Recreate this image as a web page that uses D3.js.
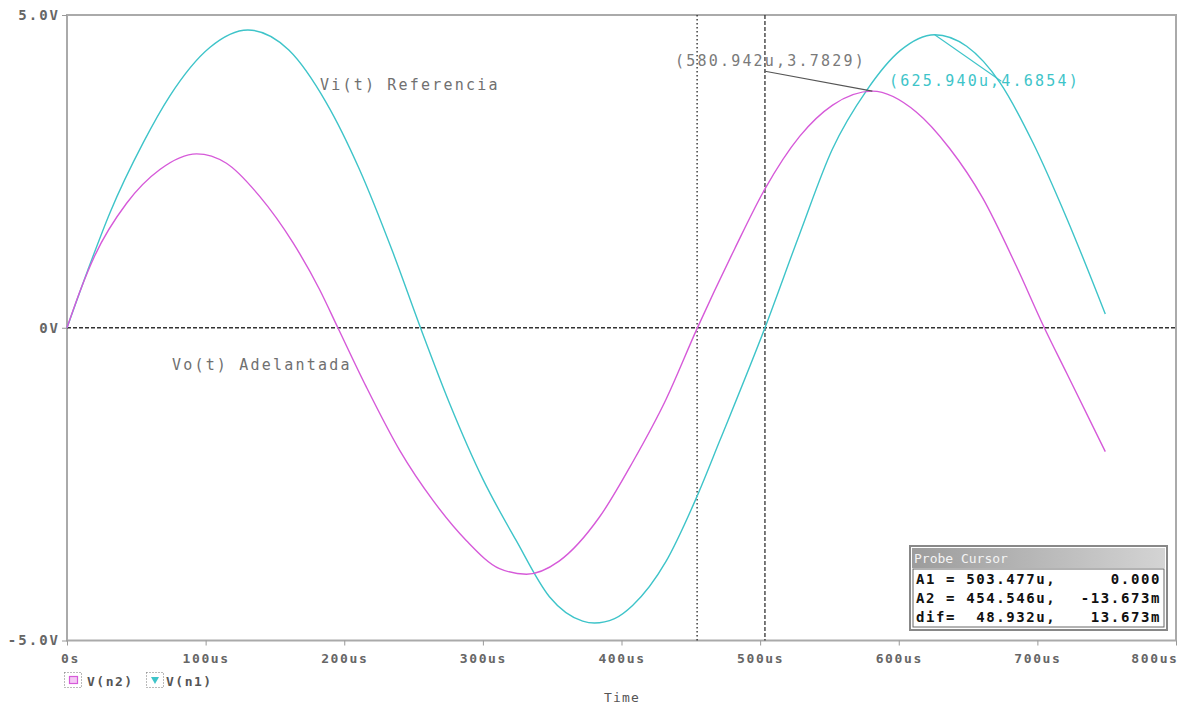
<!DOCTYPE html>
<html>
<head>
<meta charset="utf-8">
<script src="https://cdn.jsdelivr.net/npm/d3@7"></script>
<style>
  body { margin: 0; background: #fff; }
  svg { display: block; }
  text { font-family: "DejaVu Sans Mono", monospace; }
</style>
</head>
<body>
<svg id="chart" width="1179" height="707"></svg>
<script>
// values (time in us, voltage in V)
const timeTicks = [0, 100, 200, 300, 400, 500, 600, 700, 800];
const timeTickLabels = ["0s", "100us", "200us", "300us", "400us", "500us", "600us", "700us", "800us"];
const voltTicks = [-5, 0, 5];
const voltTickLabels = ["-5.0V", "0V", "5.0V"];

// V(n1) - Vi(t) Referencia
const vn1Time = [0, 15, 31, 55, 74, 103, 130.5, 160, 187, 211, 235, 255, 276, 300, 324, 348, 372, 380.5, 395, 408, 432, 454, 471, 503.5, 528.5, 552, 577, 601, 625.9, 649, 673, 697, 721, 749];
const vn1Volt = [0, 0.92, 1.84, 2.96, 3.70, 4.48, 4.76, 4.44, 3.60, 2.53, 1.21, 0, -1.21, -2.42, -3.40, -4.30, -4.69, -4.72, -4.65, -4.44, -3.74, -2.72, -1.80, 0, 1.50, 2.85, 3.80, 4.43, 4.685, 4.50, 3.92, 2.95, 1.76, 0.22];

// V(n2) - Vo(t) Adelantada
const vn2Time = [0, 10, 20, 43, 67, 93.5, 115, 139, 163, 182, 195.4, 216, 240, 264, 288, 312, 331.4, 355, 384, 408, 432, 454.5, 481.6, 503.5, 528.5, 552.3, 580.9, 612.6, 636.6, 660.4, 684.7, 705, 721, 749];
const vn2Volt = [0, 0.62, 1.15, 1.99, 2.53, 2.78, 2.63, 2.10, 1.36, 0.62, 0, -0.95, -1.96, -2.76, -3.40, -3.85, -3.94, -3.73, -3.03, -2.15, -1.15, -0.014, 1.26, 2.22, 3.06, 3.56, 3.783, 3.45, 2.87, 2.08, 0.99, 0, -0.72, -1.98];

// cursors
const cursorA1 = 503.477;
const cursorA2 = 454.546;

// text notes placed in data coords [t, v]
const noteText = ["Vi(t) Referencia", "Vo(t) Adelantada", "(580.942u,3.7829)", "(625.940u,4.6854)"];
const noteTime = [182.5, 75.7, 438.6, 593];
const noteVolt = [3.80, -0.675, 4.18, 3.86];
const noteColor = ["#707070", "#707070", "#7a7a7a", "#3ec4c9"];

// leader lines [t0, v0, t1, v1]
const leaderLines = [[503.6, 4.10, 580.942, 3.7829], [625.94, 4.6854, 674, 3.94]];
const leaderColor = ["#555", "#3ec4c9"];

const probeRows = [["A1 = 503.477u,", "0.000"], ["A2 = 454.546u,", "-13.673m"], ["dif=  48.932u,", "13.673m"]];

const cyan = "#3ec4c9";
const magenta = "#d65ad9";

let svg = d3.select("#chart");
let x = d3.scaleLinear().domain([0, 800]).range([67, 1176]);
let y = d3.scaleLinear().domain([-5, 5]).range([640.5, 15]);

// plot frame
svg.append("rect")
    .attr("x", x(0)).attr("y", y(5))
    .attr("width", x(800) - x(0)).attr("height", y(-5) - y(5))
    .attr("fill", "none").attr("stroke", "#aaa").attr("stroke-width", 2);

// x axis ticks + labels
let xAxis = svg.append("g")
    .attr("transform", `translate(0,${y(-5)})`)
    .call(d3.axisBottom(x).tickValues(timeTicks).tickSize(5).tickPadding(8)
        .tickFormat((d, i) => timeTickLabels[i]));
xAxis.select(".domain").remove();
xAxis.selectAll("line").attr("stroke", "#999");
xAxis.selectAll("text")
    .attr("font-family", "DejaVu Sans Mono")
    .attr("font-size", 13).attr("font-weight", "bold")
    .attr("letter-spacing", 1.6).attr("fill", "#666");
xAxis.selectAll(".tick").filter(d => d === 0).select("text").attr("dx", 3);
xAxis.selectAll(".tick").filter(d => d === 800).select("text").attr("text-anchor", "end").attr("dx", 2);

// y axis ticks + labels
let yAxis = svg.append("g")
    .attr("transform", `translate(${x(0)},0)`)
    .call(d3.axisLeft(y).tickValues(voltTicks).tickSize(5).tickPadding(2)
        .tickFormat((d, i) => voltTickLabels[i]));
yAxis.select(".domain").remove();
yAxis.selectAll("line").attr("stroke", "#999");
yAxis.selectAll("text")
    .attr("font-family", "DejaVu Sans Mono")
    .attr("font-size", 14).attr("font-weight", "bold")
    .attr("letter-spacing", 2).attr("fill", "#666");

// zero line
svg.append("line")
    .attr("x1", x(0)).attr("x2", x(800))
    .attr("y1", y(0)).attr("y2", y(0))
    .attr("stroke", "#333").attr("stroke-width", 1.3)
    .attr("stroke-dasharray", "4,2");

// cursors
svg.append("line")
    .attr("x1", x(cursorA2)).attr("x2", x(cursorA2))
    .attr("y1", y(5)).attr("y2", y(-5))
    .attr("stroke", "#333").attr("stroke-width", 1.4)
    .attr("stroke-dasharray", "1.5,2.5");
svg.append("line")
    .attr("x1", x(cursorA1)).attr("x2", x(cursorA1))
    .attr("y1", y(5)).attr("y2", y(-5))
    .attr("stroke", "#333").attr("stroke-width", 1.3)
    .attr("stroke-dasharray", "4,2");

// traces
let line = d3.line()
    .x(d => x(d[0]))
    .y(d => y(d[1]))
    .curve(d3.curveMonotoneX);

svg.append("path")
    .attr("d", line(vn1Time.map((t, i) => [t, vn1Volt[i]])))
    .attr("fill", "none").attr("stroke", cyan).attr("stroke-width", 1.4);
svg.append("path")
    .attr("d", line(vn2Time.map((t, i) => [t, vn2Volt[i]])))
    .attr("fill", "none").attr("stroke", magenta).attr("stroke-width", 1.4);

// leader lines
leaderLines.forEach(function(l, i) {
    svg.append("line")
        .attr("x1", x(l[0])).attr("y1", y(l[1]))
        .attr("x2", x(l[2])).attr("y2", y(l[3]))
        .attr("stroke", leaderColor[i]).attr("stroke-width", 1.1);
});

// notes
noteText.forEach(function(t, i) {
    svg.append("text")
        .attr("x", x(noteTime[i])).attr("y", y(noteVolt[i]))
        .attr("font-size", 15).attr("letter-spacing", 2.2)
        .attr("fill", noteColor[i])
        .text(t);
});

// probe cursor window
let probe = svg.append("g");
probe.append("rect")
    .attr("x", 910).attr("y", 546).attr("width", 257).attr("height", 84)
    .attr("fill", "#fff").attr("stroke", "#888").attr("stroke-width", 2);
let grad = svg.append("defs").append("linearGradient").attr("id", "titleGrad");
grad.append("stop").attr("offset", "0%").attr("stop-color", "#9c9c9c");
grad.append("stop").attr("offset", "100%").attr("stop-color", "#d4d4d4");
probe.append("rect")
    .attr("x", 912).attr("y", 548).attr("width", 253).attr("height", 20)
    .attr("fill", "url(#titleGrad)");
probe.append("text")
    .attr("x", 914).attr("y", 563)
    .attr("font-family", "Liberation Serif, serif").attr("font-size", 13)
    .attr("fill", "#f4f4f4")
    .text("Probe Cursor");
probe.append("rect")
    .attr("x", 913).attr("y", 569).attr("width", 251).attr("height", 58)
    .attr("fill", "none").attr("stroke", "#666").attr("stroke-width", 1);
probeRows.forEach(function(r, i) {
    probe.append("text")
        .attr("x", 916).attr("y", 584 + i * 19)
        .attr("font-size", 14).attr("font-weight", "bold")
        .attr("letter-spacing", 1.6).attr("fill", "#111")
        .style("white-space", "pre")
        .text(r[0]);
    probe.append("text")
        .attr("x", 1161).attr("y", 584 + i * 19)
        .attr("text-anchor", "end")
        .attr("font-size", 14).attr("font-weight", "bold")
        .attr("letter-spacing", 1.6).attr("fill", "#111")
        .text(r[1]);
});

// legend
let legend = svg.append("g");
legend.append("rect").attr("x", 64.5).attr("y", 672.5).attr("width", 17).attr("height", 15)
    .attr("fill", "none").attr("stroke", "#777").attr("stroke-dasharray", "1,2");
legend.append("rect").attr("x", 69.5).attr("y", 676.5).attr("width", 8).attr("height", 7)
    .attr("fill", "#f4c8f4").attr("stroke", magenta).attr("stroke-width", 1.2);
legend.append("text").attr("x", 87).attr("y", 686)
    .attr("font-size", 13).attr("font-weight", "bold").attr("letter-spacing", 1.5)
    .attr("fill", "#555").text("V(n2)");
legend.append("rect").attr("x", 146.5).attr("y", 672.5).attr("width", 17).attr("height", 15)
    .attr("fill", "none").attr("stroke", "#777").attr("stroke-dasharray", "1,2");
legend.append("path").attr("d", "M151,677 L159,677 L155,684 Z")
    .attr("fill", cyan);
legend.append("text").attr("x", 166).attr("y", 686)
    .attr("font-size", 13).attr("font-weight", "bold").attr("letter-spacing", 1.5)
    .attr("fill", "#555").text("V(n1)");

// x axis title
svg.append("text")
    .attr("x", 622).attr("y", 702)
    .attr("text-anchor", "middle")
    .attr("font-size", 13).attr("letter-spacing", 1.2)
    .attr("fill", "#555")
    .text("Time");
</script>
</body>
</html>
